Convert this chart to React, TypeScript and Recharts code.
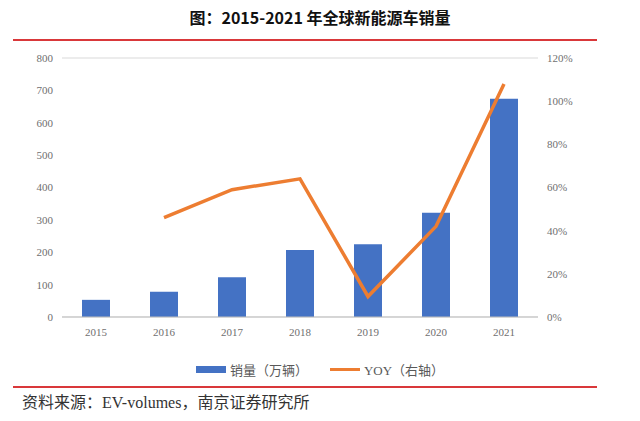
import { ComposedChart, Bar, Line, XAxis, YAxis, CartesianGrid } from 'recharts'

// 全球新能源车销量（万辆）及同比增速
const years = ['2015', '2016', '2017', '2018', '2019', '2020', '2021']
const sales = [53, 78, 123, 207, 225, 322, 674]
const yoy = [null, 46, 59, 64, 9.5, 42, 108]
const leftTicks = [0, 100, 200, 300, 400, 500, 600, 700, 800]
const rightTicks = [0, 20, 40, 60, 80, 100, 120]

const BLUE = '#4472C4'
const ORANGE = '#ED7D31'
const RED = '#D9383A'
const TICK_COLOR = '#6f6f6f'
const TICK_FONT = "'Liberation Serif', 'Noto Sans CJK SC', serif"

const data = years.map((year, i) => ({ year, sales: sales[i], yoy: yoy[i] }))

function LegendRow() {
  return (
    <div style={{ display: 'flex', justifyContent: 'center', alignItems: 'center', fontSize: 13, color: '#595959', fontFamily: TICK_FONT }}>
      <span style={{ display: 'inline-block', width: 30, height: 7, background: BLUE, marginRight: 4 }} />
      <span style={{ marginRight: 22 }}>销量（万辆）</span>
      <span style={{ display: 'inline-block', width: 30, height: 3, background: ORANGE, marginRight: 4 }} />
      <span>YOY（右轴）</span>
    </div>
  )
}

export default function App() {
  return (
    <div style={{ position: 'absolute', left: 0, top: 0, width: 640, height: 421, background: '#fff', overflow: 'hidden' }}>
      <div
        style={{
          position: 'absolute', top: 5, left: 0, width: 640, textAlign: 'center',
          fontFamily: "'Noto Sans CJK SC', sans-serif", fontWeight: 700, fontSize: 16, color: '#111',
        }}
      >
        图：2015-2021 年全球新能源车销量
      </div>
      <div style={{ position: 'absolute', top: 39, left: 13, width: 584, height: 2, background: RED }} />

      <div style={{ position: 'absolute', left: 0, top: 0 }}>
        <ComposedChart width={640} height={421} data={data} margin={{ top: 58, right: 30, bottom: 74, left: 0 }}>
          <CartesianGrid vertical={false} stroke="#d9d9d9" />
          <XAxis
            dataKey="year"
            height={30}
            tickLine={false}
            axisLine={{ stroke: '#bfbfbf' }}
            tickMargin={5}
            tick={{ fill: TICK_COLOR, fontSize: 11, fontFamily: TICK_FONT }}
          />
          <YAxis
            yAxisId="left"
            width={62}
            domain={[0, 800]}
            ticks={leftTicks}
            axisLine={false}
            tickLine={false}
            tickSize={0}
            tickMargin={9}
            tick={{ fill: TICK_COLOR, fontSize: 11, fontFamily: TICK_FONT }}
          />
          <YAxis
            yAxisId="right"
            orientation="right"
            width={72}
            domain={[0, 120]}
            ticks={rightTicks}
            tickFormatter={(v) => `${v}%`}
            axisLine={false}
            tickLine={false}
            tickSize={0}
            tickMargin={9}
            tick={{ fill: TICK_COLOR, fontSize: 11, fontFamily: TICK_FONT }}
          />
          <Bar yAxisId="left" dataKey="sales" name="销量（万辆）" fill={BLUE} barSize={28} isAnimationActive={false} />
          <Line
            yAxisId="right"
            dataKey="yoy"
            name="YOY（右轴）"
            type="linear"
            stroke={ORANGE}
            strokeWidth={3.5}
            dot={false}
            activeDot={false}
            isAnimationActive={false}
          />
        </ComposedChart>
      </div>

      <div style={{ position: 'absolute', top: 360, left: 0, width: 640 }}>
        <LegendRow />
      </div>

      <div style={{ position: 'absolute', top: 386, left: 13, width: 584, height: 2, background: RED }} />
      <div
        style={{
          position: 'absolute', top: 389, left: 22, fontSize: 16, color: '#333',
          fontFamily: "'Liberation Serif', 'Noto Sans CJK SC', serif",
        }}
      >
        资料来源：EV-volumes，南京证券研究所
      </div>
    </div>
  )
}
